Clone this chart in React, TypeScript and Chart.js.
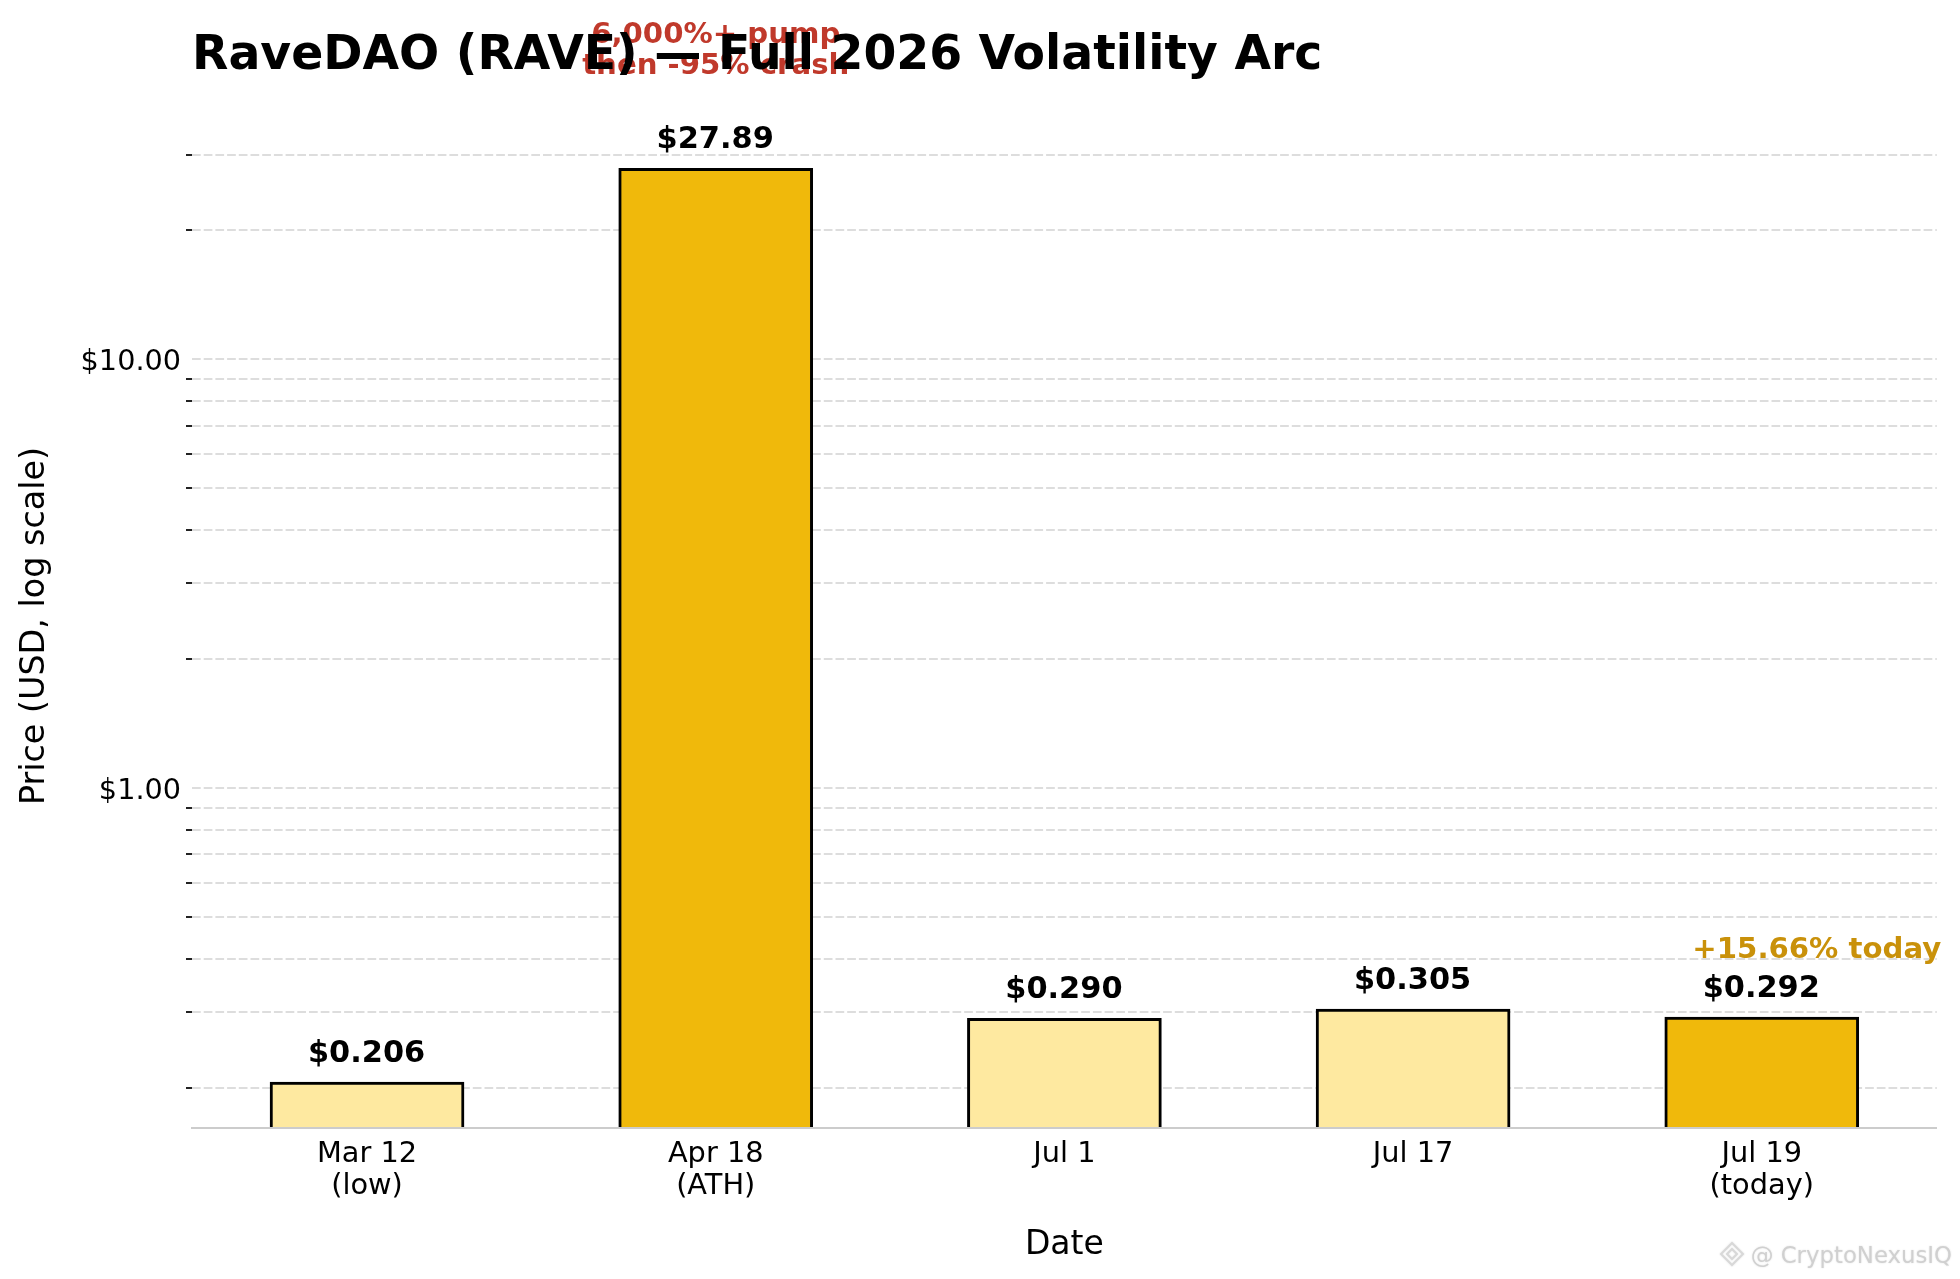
import React, { useEffect, useRef } from 'react';
import { Chart, registerables } from 'chart.js';

Chart.register(...registerables);

const categories: string[][] = [['Mar 12', '(low)'], ['Apr 18', '(ATH)'], ['Jul 1'], ['Jul 17'], ['Jul 19', '(today)']];
const prices: number[] = [0.206, 27.89, 0.29, 0.305, 0.292];
const priceLabels: string[] = ['$0.206', '$27.89', '$0.290', '$0.305', '$0.292'];
const barColors: string[] = ['#FEE9A0', '#F0B90B', '#FEE9A0', '#FEE9A0', '#F0B90B'];
const yTicks: number[] = [0.2, 0.3, 0.4, 0.5, 0.6, 0.7, 0.8, 0.9, 1, 2, 3, 4, 5, 6, 7, 8, 9, 10, 20, 30];
const majorTicks: number[] = [1, 10];

const FONT = '"DejaVu Sans"';

const diamond = (ctx: CanvasRenderingContext2D, x: number, y: number, r: number) => {
  ctx.beginPath();
  ctx.moveTo(x, y - r);
  ctx.lineTo(x + r, y);
  ctx.lineTo(x, y + r);
  ctx.lineTo(x - r, y);
  ctx.closePath();
  ctx.stroke();
};

const annotations = {
  id: 'annotations',
  // drawn before the title so the title ends up on top of the red note
  beforeDraw(chart: any) {
    const { ctx, scales } = chart;
    ctx.save();
    ctx.textAlign = 'center';
    ctx.fillStyle = '#C0392B';
    ctx.font = `bold 29.2px ${FONT}`;
    const x = scales.x.getPixelForValue(1);
    ctx.fillText('6,000%+ pump', x, 43);
    ctx.fillText('then -95% crash', x, 74);
    ctx.restore();
  },
  afterDatasetsDraw(chart: any) {
    const { ctx, scales } = chart;
    ctx.save();
    ctx.textAlign = 'center';
    ctx.fillStyle = '#000';
    ctx.font = `bold 30.4px ${FONT}`;
    prices.forEach((p, i) => {
      ctx.fillText(priceLabels[i], scales.x.getPixelForValue(i) - 0.5, scales.y.getPixelForValue(p) - 20.5);
    });
    ctx.fillStyle = '#C9910A';
    ctx.font = `bold 29.2px ${FONT}`;
    ctx.fillText('+15.66% today', scales.x.getPixelForValue(4) + 55, 958);

    // y labels sit a little below their grid line, chart.js centres them exactly
    ctx.fillStyle = '#000';
    ctx.font = `28.7px ${FONT}`;
    ctx.textAlign = 'right';
    majorTicks.forEach((v) => {
      ctx.fillText(`$${v.toFixed(2)}`, 181, scales.y.getPixelForValue(v) + 11);
    });

    ctx.save();
    ctx.translate(35.5, 626);
    ctx.rotate(-Math.PI / 2);
    ctx.textAlign = 'center';
    ctx.textBaseline = 'middle';
    ctx.font = `33.4px ${FONT}`;
    ctx.fillText('Price (USD, log scale)', 0, 0);
    ctx.restore();

    // watermark
    ctx.fillStyle = '#D0D0D0';
    ctx.shadowColor = 'rgba(0,0,0,0.12)';
    ctx.shadowBlur = 2;
    ctx.font = `22.8px ${FONT}`;
    ctx.textAlign = 'right';
    ctx.fillText('@ CryptoNexusIQ', 1952, 1263);
    ctx.strokeStyle = '#D8D8D8';
    ctx.lineWidth = 2;
    diamond(ctx, 1732, 1254, 11);
    diamond(ctx, 1732, 1254, 5);
    ctx.restore();
  },
};

export default function App() {
  const chartRef = useRef<HTMLCanvasElement | null>(null);

  useEffect(() => {
    if (!chartRef.current) return;
    const chart = new Chart(chartRef.current, {
      type: 'bar',
      data: {
        datasets: [
          {
            data: prices.map((p, i) => ({ x: i, y: p })),
            backgroundColor: barColors,
            borderColor: '#000',
            borderWidth: { top: 3, left: 3, right: 3, bottom: 0 },
            barThickness: 194,
          },
        ],
      },
      options: {
        responsive: false,
        devicePixelRatio: 1,
        animation: false,
        layout: { padding: { left: 0, right: 23.2, top: 0, bottom: 14 } },
        plugins: {
          legend: { display: false },
          tooltip: { enabled: false },
          title: {
            display: true,
            text: 'RaveDAO (RAVE) — Full 2026 Volatility Arc',
            align: 'start',
            fullSize: false,
            color: '#000',
            font: { family: FONT, size: 47.3, weight: 'bold' },
            padding: { top: 28, bottom: 34.5 },
          },
        },
        scales: {
          x: {
            type: 'linear',
            offset: false,
            min: -0.502,
            max: 4.502,
            afterBuildTicks: (axis: any) => {
              axis.ticks = categories.map((_, i) => ({ value: i }));
            },
            afterFit: (axis: any) => {
              axis.height = 137;
            },
            grid: { display: false },
            border: { display: true, color: '#CCCCCC', width: 2, z: 1 },
            ticks: {
              autoSkip: false,
              maxRotation: 0,
              color: '#000',
              padding: 2,
              font: { family: FONT, size: 28.8, lineHeight: 1.12 },
              callback: (v: any) => categories[v],
            },
            title: {
              display: true,
              text: 'Date',
              color: '#000',
              font: { family: FONT, size: 33 },
              padding: { top: 14, bottom: 0 },
            },
          },
          y: {
            type: 'logarithmic',
            min: 0.161,
            max: 36.3,
            afterBuildTicks: (axis: any) => {
              axis.ticks = yTicks.map((value) => ({ value, major: majorTicks.includes(value) }));
            },
            afterFit: (axis: any) => {
              axis.width = 192;
            },
            border: { display: false, dash: [8.7, 3] },
            grid: {
              color: '#DDDDDD',
              lineWidth: 2,
              tickLength: 6,
              tickColor: (c: any) => (majorTicks.includes(c.tick?.value) ? 'rgba(0,0,0,0)' : '#222'),
              tickWidth: 2,
            },
            ticks: {
              autoSkip: false,
              padding: 4,
              font: { family: FONT, size: 28.7 },
              callback: () => '',
            },
          },
        },
      },
      plugins: [annotations],
    });
    return () => chart.destroy();
  }, []);

  return (
    <div style={{ position: 'absolute', left: 0, top: 0 }}>
      <canvas ref={chartRef} width={1960} height={1279} style={{ display: 'block' }} />
    </div>
  );
}
